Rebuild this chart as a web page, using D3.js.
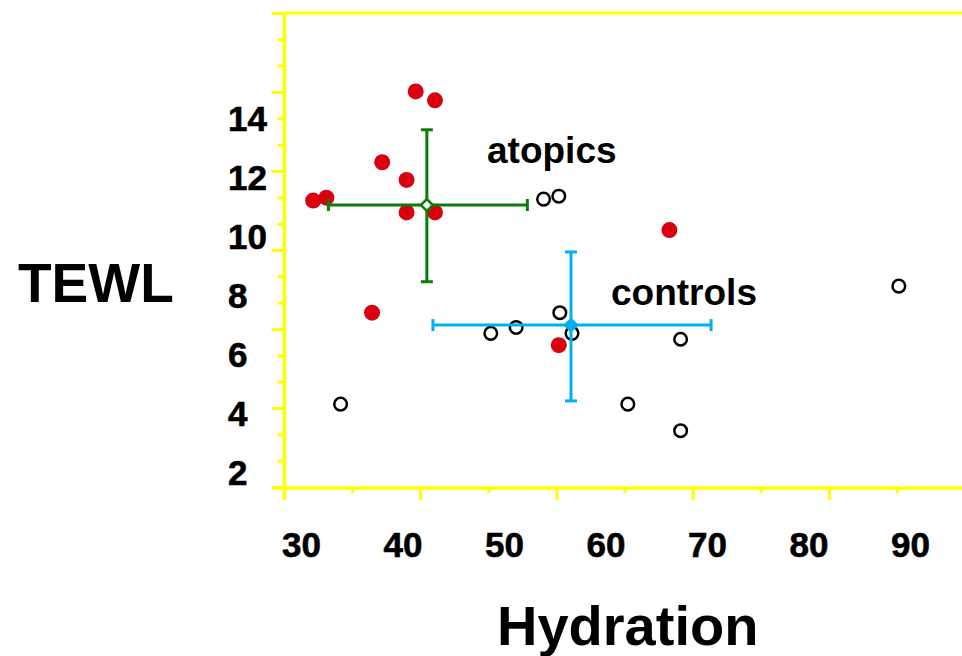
<!DOCTYPE html>
<html>
<head>
<meta charset="utf-8">
<script src="https://cdn.jsdelivr.net/npm/d3@7"></script>
<style>
  body { margin: 0; background: #fff; }
  svg { display: block; }
  text { font-family: "Liberation Sans", Arial, sans-serif; font-weight: bold; }
</style>
</head>
<body>
<svg id="chart" width="962" height="656"></svg>
<script>
// ---- data ----
const xTickLabels = [30, 40, 50, 60, 70, 80, 90];
const yTickLabels = [2, 4, 6, 8, 10, 12, 14];

const atopicsHydration = [31.2, 32.5, 38.0, 40.4, 41.3, 43.2, 40.4, 43.2, 37.0, 66.3, 55.4];
const atopicsTEWL      = [11.2, 11.3, 12.5, 11.9, 14.9, 14.6, 10.8, 10.8, 7.4, 10.2, 6.3];

const controlsHydration = [33.9, 48.7, 51.2, 53.9, 55.4, 55.5, 56.7, 62.2, 67.4, 67.4, 88.9];
const controlsTEWL      = [4.3, 6.7, 6.9, 11.25, 11.35, 7.4, 6.7, 4.3, 6.5, 3.4, 8.3];

// group means with error bars
const groupNames    = ["atopics", "controls"];
const meanHydration = [42.4, 56.6];
const hydrationLow  = [32.7, 43.0];
const hydrationHigh = [52.3, 70.4];
const meanTEWL      = [11.05, 6.98];
const tewlLow       = [8.45, 4.41];
const tewlHigh      = [13.6, 9.46];

// ---- drawing ----
const svg = d3.select("#chart");
const yellow = "#ffff00";
const groupColors = ["#0a7d0a", "#00b0f0"];

const x = d3.scaleLinear().domain([30, 90]).range([301, 910]);
const y = d3.scaleLinear().domain([2, 14]).range([472, 118]);

// decorative tick frames (independent of the data scale, as in the original)
const xFrame = d3.scaleLinear().domain([0, 10]).range([284, 965]);
const yFrame = d3.scaleLinear().domain([0, 18]).range([487, 13]);

// top frame line
svg.append("line").attr("x1", 284).attr("x2", 962).attr("y1", 13).attr("y2", 13)
  .attr("stroke", yellow).attr("stroke-width", 3);

// Y axis frame
const yAxisG = svg.append("g").attr("transform", "translate(284.5,0)");
yAxisG.call(d3.axisLeft(yFrame).tickValues(d3.range(0, 19)).tickFormat("").tickSize(0));
yAxisG.select(".domain").remove();
yAxisG.selectAll(".tick line")
  .attr("x2", d => d % 3 === 0 ? -13 : -7)
  .attr("stroke", yellow).attr("stroke-width", 3);
svg.append("line").attr("x1", 284.5).attr("x2", 284.5).attr("y1", 12).attr("y2", 499)
  .attr("stroke", yellow).attr("stroke-width", 3.5);

// X axis frame
const xAxisG = svg.append("g").attr("transform", "translate(0,488)");
xAxisG.call(d3.axisBottom(xFrame).tickValues(d3.range(0, 10)).tickFormat("").tickSize(0));
xAxisG.select(".domain").remove();
xAxisG.selectAll(".tick line")
  .attr("y2", d => d % 2 === 0 ? 12 : 5)
  .attr("stroke", yellow).attr("stroke-width", 3);
svg.append("line").attr("x1", 272).attr("x2", 962).attr("y1", 488).attr("y2", 488)
  .attr("stroke", yellow).attr("stroke-width", 3.5);

// tick labels
const xLab = svg.append("g").attr("transform", "translate(0,532)");
xLab.call(d3.axisBottom(x).tickValues(xTickLabels).tickSize(0).tickPadding(0).tickFormat(d3.format("d")));
xLab.select(".domain").remove();
xLab.selectAll(".tick text").attr("fill", "#000").style("font-size", "35px").attr("dy", "0.71em")
  .attr("stroke", "#000").attr("stroke-width", 0.6);

const yLab = svg.append("g").attr("transform", "translate(228,0)");
yLab.call(d3.axisLeft(y).tickValues(yTickLabels).tickSize(0).tickPadding(0).tickFormat(d3.format("d")));
yLab.select(".domain").remove();
yLab.selectAll(".tick text").attr("x", 0).attr("text-anchor", "start")
  .attr("fill", "#000").style("font-size", "35px").attr("dy", "0.36em")
  .attr("stroke", "#000").attr("stroke-width", 0.6);

// axis titles
svg.append("text").attr("x", 18).attr("y", 302).style("font-size", "55px").attr("fill", "#000").text("TEWL");
svg.append("text").attr("x", 497).attr("y", 645).style("font-size", "56px").attr("fill", "#000").text("Hydration");

// controls points (open circles)
svg.append("g").selectAll("circle").data(controlsHydration.map((h, i) => [h, controlsTEWL[i]]))
  .join("circle")
  .attr("cx", d => x(d[0])).attr("cy", d => y(d[1])).attr("r", 6.3)
  .attr("fill", "#fff").attr("stroke", "#000").attr("stroke-width", 2.5);

// atopics points (red filled)
svg.append("g").selectAll("circle").data(atopicsHydration.map((h, i) => [h, atopicsTEWL[i]]))
  .join("circle")
  .attr("cx", d => x(d[0])).attr("cy", d => y(d[1])).attr("r", 8)
  .attr("fill", "#d9000f");

// error bars
groupNames.forEach((name, i) => {
  const g = svg.append("g").attr("stroke", groupColors[i]).attr("stroke-width", 3);
  const cx = x(meanHydration[i]), cy = y(meanTEWL[i]);
  g.append("line").attr("x1", x(hydrationLow[i])).attr("x2", x(hydrationHigh[i])).attr("y1", cy).attr("y2", cy);
  g.append("line").attr("x1", cx).attr("x2", cx).attr("y1", y(tewlLow[i])).attr("y2", y(tewlHigh[i]));
  [hydrationLow[i], hydrationHigh[i]].forEach(v =>
    g.append("line").attr("x1", x(v)).attr("x2", x(v)).attr("y1", cy - 6).attr("y2", cy + 6));
  [tewlLow[i], tewlHigh[i]].forEach(v =>
    g.append("line").attr("x1", cx - 6).attr("x2", cx + 6).attr("y1", y(v)).attr("y2", y(v)));
  g.append("path").attr("d", d3.symbol(d3.symbolDiamond2, 90)())
    .attr("transform", `translate(${cx},${cy})`)
    .attr("fill", i === 0 ? "#fff" : groupColors[i])
    .attr("stroke-width", 2.5);
});

// group labels
svg.append("text").attr("x", 487).attr("y", 163).style("font-size", "37px").attr("fill", "#000").text("atopics");
svg.append("text").attr("x", 611).attr("y", 305).style("font-size", "37px").attr("fill", "#000").text("controls");
</script>
</body>
</html>
